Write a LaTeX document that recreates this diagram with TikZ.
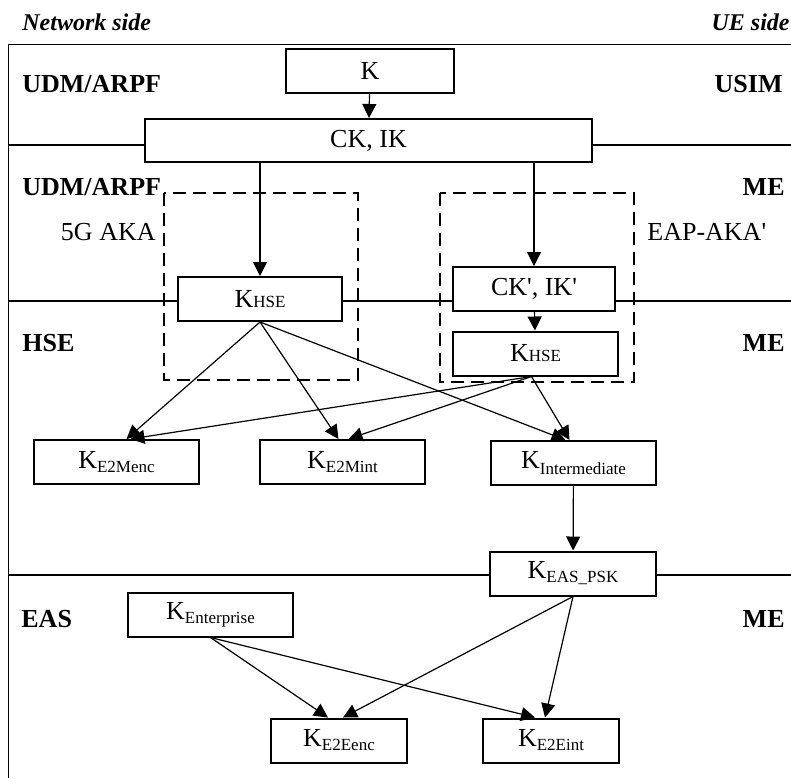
\documentclass[tikz,border=0pt]{standalone}
\usepackage{fontspec}
\setmainfont{Liberation Serif}[Ligatures=TeXOff]
\usetikzlibrary{arrows.meta}
\tikzset{>={Triangle[length=7pt,width=7pt]}}
\tikzset{
	keybox/.style={draw, line width=1pt, inner sep=0pt, minimum height=22pt, minimum width=#1, font=\fontsize{13}{15}\selectfont},
	keybox/.default=82.5pt,
	role/.style={inner sep=0pt, font=\fontsize{13}{15}\selectfont\bfseries},
	side/.style={inner sep=0pt, font=\fontsize{12}{14}\selectfont\bfseries\itshape},
	method/.style={inner sep=0pt, font=\fontsize{13}{15}\selectfont},
	methodbox/.style={line width=0.9pt, dash pattern=on 6.5pt off 3.5pt},
	border/.style={line width=0.5pt},
	sep/.style={line width=0.7pt},
	derive/.style={->, line width=0.6pt}
}
\newcommand{\kkey}[2][-2pt]{K\raisebox{#1}{\fontsize{8.5}{9}\selectfont #2}}

\begin{document}
\begin{tikzpicture}[x=0.5pt, y=-0.5pt]
	\useasboundingbox (0,0) rectangle (791,778);
	\draw[border] (791,44) -- (8,44) -- (8,778);

	\node[side, anchor=west] (netside) at (22,22) {Network side};
	\node[side, anchor=east] (ueside) at (790,22) {UE side};

	\node[role, anchor=west] (udmA) at (22,84) {UDM/ARPF};
	\node[role, anchor=east] (usim) at (783,84) {USIM};
	\node[role, anchor=west] (udmB) at (22,187) {UDM/ARPF};
	\node[role, anchor=east] (meA) at (785,187) {ME};
	\node[role, anchor=west] (hse) at (22,343) {HSE};
	\node[role, anchor=east] (meB) at (785,343) {ME};
	\node[role, anchor=west] (eas) at (21,619) {EAS};
	\node[role, anchor=east] (meC) at (785,619) {ME};

	\draw[methodbox] (164,193) rectangle (358,380);
	\draw[methodbox] (440,193) rectangle (634,382);
	\node[method, anchor=east] (akaA) at (156,232) {5G AKA};
	\node[method, anchor=west] (akaB) at (647,232) {EAP-AKA'};

	\node[keybox=84pt] (k) at (370,71) {K};
	\node[keybox=223.5pt, minimum height=21.5pt] (ckik) at (368.5,140.5) {CK, IK};
	\node[keybox=82pt] (khseA) at (260,299) {\kkey[0pt]{HSE}};
	\node[keybox=81pt] (ckikp) at (534,289) {CK', IK'};
	\node[keybox] (khseB) at (535.5,353.5) {\kkey[0pt]{HSE}};
	\node[keybox] (ke2menc) at (116.5,462) {\kkey{E2Menc}};
	\node[keybox] (ke2mint) at (342.5,462) {\kkey{E2Mint}};
	\node[keybox] (kinter) at (573.5,463) {\kkey[-3pt]{Intermediate}};
	\node[keybox=83pt] (keaspsk) at (573,573.5) {\kkey{EAS\_PSK}};
	\node[keybox] (kent) at (210.5,614.5) {\kkey{Enterprise}};
	\node[keybox=68pt] (ke2eenc) at (339,740.5) {\kkey{E2Eenc}};
	\node[keybox=68pt] (ke2eint) at (551,740.5) {\kkey{E2Eint}};

	\coordinate (lA) at (8,145);
	\coordinate (rA) at (791,145);
	\coordinate (lB) at (8,301);
	\coordinate (rB) at (791,301);
	\coordinate (lC) at (8,575);
	\coordinate (rC) at (791,575);
	\draw[sep] (lA) -- (lA -| ckik.west);
	\draw[sep] (ckik.east |- rA) -- (rA);
	\draw[sep] (lB) -- (lB -| khseA.west);
	\draw[sep] (khseA.east |- lB) -- (lB -| ckikp.west);
	\draw[sep] (ckikp.east |- rB) -- (rB);
	\draw[sep] (lC) -- (lC -| keaspsk.west);
	\draw[sep] (keaspsk.east |- rC) -- (rC);

	\draw[derive] (k) -- (ckik);
	\draw[derive] (ckik.south -| khseA.north) -- (khseA.north);
	\draw[derive] (ckik.south -| ckikp.north) -- (ckikp.north);
	\draw[derive] (ckikp) -- (khseB);

	\draw[derive] (khseA.south) -- ([xshift=5pt]ke2menc.north);
	\draw[derive] (khseA.south) -- ([xshift=-2pt]ke2mint.north);
	\draw[derive] (khseA.south) -- ([xshift=-4pt]kinter.north);
	\draw[derive] ([xshift=-2pt]khseB.south) -- ([xshift=7pt]ke2menc.north);
	\draw[derive] ([xshift=-2pt]khseB.south) -- ([xshift=3pt]ke2mint.north);
	\draw[derive] ([xshift=-2pt]khseB.south) -- ([xshift=-2pt]kinter.north);

	\draw[derive] (kinter) -- (keaspsk);

	\draw[derive] (kent.south) -- ([xshift=-5.5pt]ke2eenc.north);
	\draw[derive] (kent.south) -- ([xshift=-8pt]ke2eint.north);
	\draw[derive] (keaspsk.south) -- ([xshift=2pt]ke2eenc.north);
	\draw[derive] (keaspsk.south) -- ([xshift=-3pt]ke2eint.north);
\end{tikzpicture}
\end{document}
